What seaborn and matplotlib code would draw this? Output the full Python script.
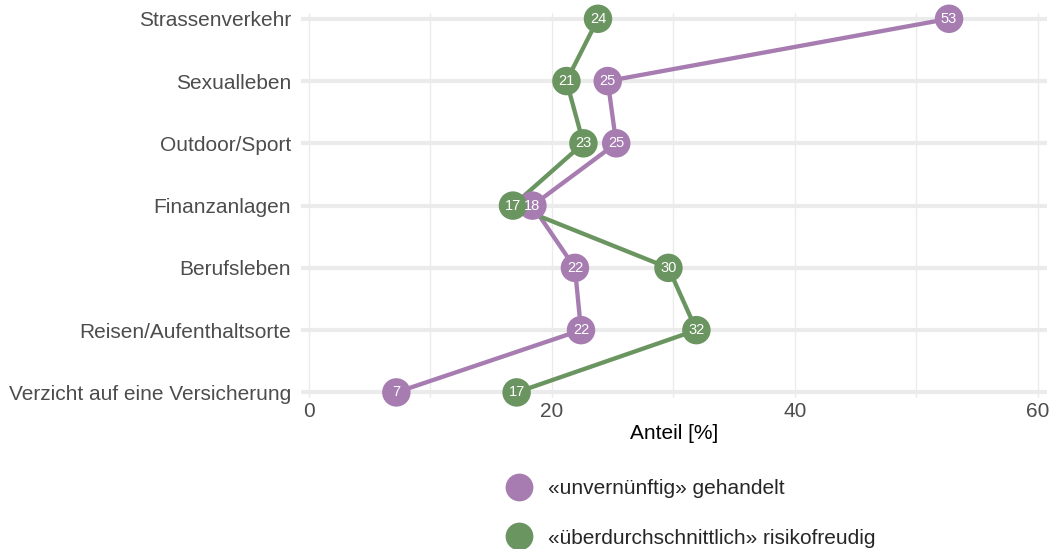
import matplotlib
matplotlib.use("Agg")
import matplotlib.pyplot as plt
from matplotlib.lines import Line2D
from matplotlib.ticker import MultipleLocator
import pandas as pd
import seaborn as sns

categories = ["Strassenverkehr", "Sexualleben", "Outdoor/Sport", "Finanzanlagen",
              "Berufsleben", "Reisen/Aufenthaltsorte", "Verzicht auf eine Versicherung"]
unvernuenftig = [52.7, 24.6, 25.3, 18.4, 21.9, 22.4, 7.2]
risikofreudig = [23.8, 21.2, 22.6, 16.8, 29.6, 31.9, 17.1]
series_names = ["«unvernünftig» gehandelt", "«überdurchschnittlich» risikofreudig"]
colors = ["#a67cb1", "#6b9560"]

df = pd.concat([
    pd.DataFrame({"Kategorie": categories, "Anteil": unvernuenftig, "Gruppe": series_names[0]}),
    pd.DataFrame({"Kategorie": categories, "Anteil": risikofreudig, "Gruppe": series_names[1]}),
])

sns.set_theme(style="whitegrid")
plt.rcParams["font.family"] = ["Liberation Sans", "DejaVu Sans"]

fig, ax = plt.subplots(figsize=(10.52, 5.49), dpi=100)
fig.subplots_adjust(left=0.286, right=0.995, top=0.976, bottom=0.275)

palette = dict(zip(series_names, colors))
sns.lineplot(data=df, x="Anteil", y="Kategorie", hue="Gruppe", palette=palette,
             sort=False, orient="y", linewidth=3.1, legend=False, ax=ax)
sns.scatterplot(data=df, x="Anteil", y="Kategorie", hue="Gruppe", palette=palette,
                s=420, linewidth=0, alpha=1, legend=False, zorder=3, ax=ax)
for coll in ax.collections:
    coll.set_clip_on(False)

for vals in (unvernuenftig, risikofreudig):
    for i, v in enumerate(vals):
        ax.text(v, i, f"{v:.0f}", color="white", fontsize=10.5,
                ha="center", va="center", zorder=4)

ax.set_xlim(-0.66, 60.74)
ax.set_ylim(len(categories) - 1 + 0.09, -0.09)
ax.xaxis.set_major_locator(MultipleLocator(20))
ax.xaxis.set_minor_locator(MultipleLocator(10))
ax.grid(axis="y", color="#ebebeb", linewidth=3)
ax.grid(axis="x", which="both", color="#ebebeb", linewidth=1)
for s in ax.spines.values():
    s.set_visible(False)
ax.tick_params(axis="both", length=0, labelsize=15, labelcolor="#4d4d4d")
ax.tick_params(axis="y", pad=7)
ax.tick_params(axis="x", pad=3)
ax.set_ylabel("")
ax.set_xlabel("Anteil [%]", fontsize=15, color="black", labelpad=2)

handles = [Line2D([], [], marker="o", linestyle="", markersize=20,
                  markerfacecolor=c, markeredgewidth=0) for c in colors]
ax.legend(handles, series_names, loc="upper left", bbox_to_anchor=(0.253, -0.19),
          frameon=False, fontsize=15, labelspacing=1.45, handletextpad=0.4,
          borderaxespad=0)

fig.savefig("out.png", dpi=100)
